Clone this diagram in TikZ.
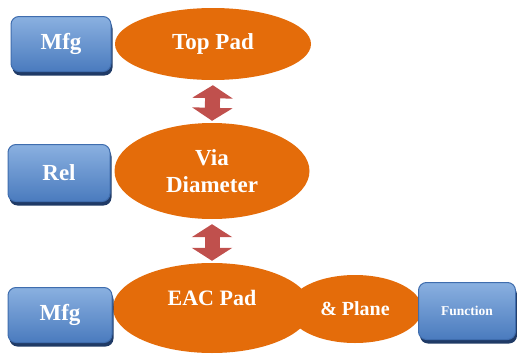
\documentclass[tikz,border=0pt]{standalone}
\usepackage{fontspec}
\setmainfont{Liberation Serif}
\usetikzlibrary{shapes.geometric,shadows,arrows.meta}

\definecolor{padorange}{HTML}{E46C0A}
\definecolor{boxtop}{HTML}{8AB0E0}
\definecolor{boxbot}{HTML}{4A7BBE}
\definecolor{boxborder}{HTML}{3F6DAE}
\definecolor{boxshadow}{HTML}{1F3A66}
\definecolor{linkred}{HTML}{C0504D}

\begin{document}
\begin{tikzpicture}[
  x=1pt,
  y=-1pt,
  pad/.style={
    ellipse,
    fill=padorange,
    inner sep=0pt,
    text=white,
    align=center,
    font=\bfseries\fontsize{23}{27}\selectfont
  },
  padtext/.style={
    text=white,
    inner sep=0pt,
    font=\bfseries\fontsize{22}{26}\selectfont
  },
  bluebox/.style={
    rectangle,
    rounded corners=8pt,
    draw=boxborder,
    line width=1pt,
    top color=boxtop,
    bottom color=boxbot,
    drop shadow={
      shadow xshift=1.5pt,
      shadow yshift=-4pt,
      fill=boxshadow,
      opacity=1
    },
    text=white,
    inner sep=0pt,
    font=\bfseries\fontsize{23}{27}\selectfont
  },
  link/.style={
    draw=linkred,
    line width=15pt,
    {Triangle[width=40pt,length=13pt]}-{Triangle[width=40pt,length=13pt]},
    shorten <=5pt,
    shorten >=2pt
  }
]
  \useasboundingbox (0,0) rectangle (517,356);

  % Kontaktflaechen
  \node[pad, minimum width=196, minimum height=72] (toppad)
    at (213,44) {Top Pad};
  \node[pad, minimum width=195, minimum height=96] (via)
    at (212,171) {Via\\Diameter};
  \node[pad, minimum width=134, minimum height=68,
    font=\bfseries\fontsize{20}{24}\selectfont] (plane)
    at (355,309) {\& Plane};
  \node[pad, minimum width=198, minimum height=90] (eac)
    at (212,308) {};
  \node[padtext] (eactext)
    at ([yshift=10pt]eac.center) {EAC Pad};

  % Verbindungen
  \draw[link] (toppad.south) -- (via.north);
  \draw[link] (via.south) -- (eac.north);

  % Kriterien
  \node[bluebox, minimum width=100, minimum height=55] (mfgtop)
    at (61,44) {Mfg};
  \node[bluebox, minimum width=102, minimum height=57] (rel)
    at (59,173) {Rel};
  \node[bluebox, minimum width=104, minimum height=55] (mfgbot)
    at (60,315) {Mfg};
  \node[bluebox, minimum width=97, minimum height=57,
    font=\bfseries\fontsize{13.5}{16}\selectfont] (function)
    at (467,311) {Function};
\end{tikzpicture}
\end{document}
